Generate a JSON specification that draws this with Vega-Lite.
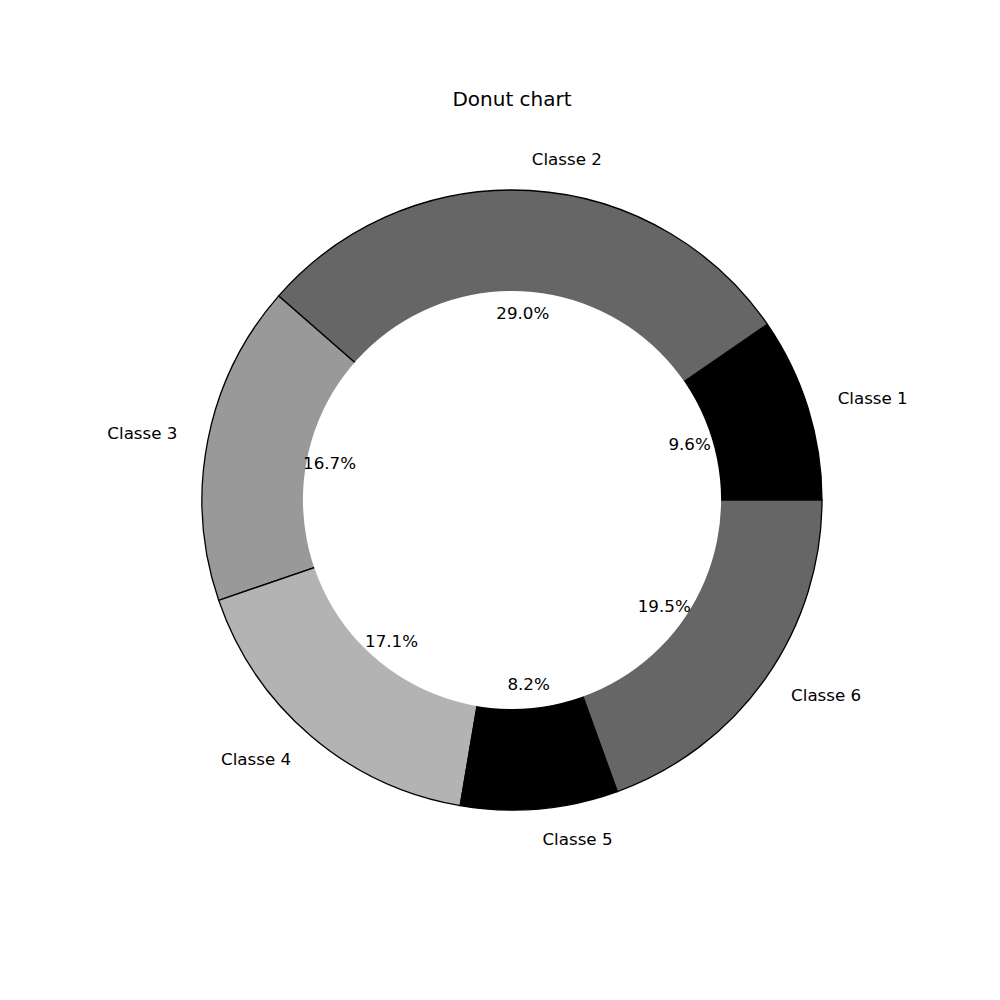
{
  "$schema": "https://vega.github.io/schema/vega-lite/v6.json",
  "width": 976,
  "height": 1000,
  "autosize": {"type": "none"},
  "padding": {"left": 24, "top": 0, "right": 0, "bottom": 0},
  "background": "white",
  "title": {"text": "Donut chart", "font": "DejaVu Sans", "fontSize": 20, "fontWeight": "normal", "color": "black", "anchor": "middle", "offset": -126, "baseline": "alphabetic"},
  "view": {"stroke": null},
  "data": {"values": [
    {"label": "Classe 1", "share": 0.096},
    {"label": "Classe 2", "share": 0.290},
    {"label": "Classe 3", "share": 0.167},
    {"label": "Classe 4", "share": 0.171},
    {"label": "Classe 5", "share": 0.082},
    {"label": "Classe 6", "share": 0.195}
  ]},
  "encoding": {
    "theta": {"field": "share", "type": "quantitative", "stack": true, "scale": {"range": [1.5707963, -4.7123890]}},
    "order": {"field": "label", "type": "nominal", "sort": "ascending"}
  },
  "layer": [
    {
      "mark": {"type": "arc", "radius": 310, "innerRadius": 0, "stroke": "black", "strokeWidth": 1.3},
      "encoding": {
        "color": {"field": "label", "type": "nominal", "legend": null,
          "scale": {"domain": ["Classe 1", "Classe 2", "Classe 3", "Classe 4", "Classe 5", "Classe 6"],
                    "range": ["#000000", "#666666", "#999999", "#b3b3b3", "#000000", "#666666"]}}
      }
    },
    {
      "data": {"values": [{"c": 1}]},
      "mark": {"type": "arc", "radius": 209, "theta": 0, "theta2": 6.2831853, "fill": "white", "stroke": null},
      "encoding": {"theta": null, "order": null}
    },
    {
      "mark": {"type": "text", "radius": 186, "font": "DejaVu Sans", "fontSize": 16.7, "color": "black", "align": "center", "baseline": "middle"},
      "encoding": {"text": {"field": "share", "type": "quantitative", "format": ".1%"}}
    },
    {
      "mark": {"type": "text", "radius": 341, "font": "DejaVu Sans", "fontSize": 16.7, "color": "black", "baseline": "middle",
        "align": {"expr": "datum.label == 'Classe 3' || datum.label == 'Classe 4' ? 'right' : 'left'"}},
      "encoding": {"text": {"field": "label", "type": "nominal"}}
    }
  ]
}
